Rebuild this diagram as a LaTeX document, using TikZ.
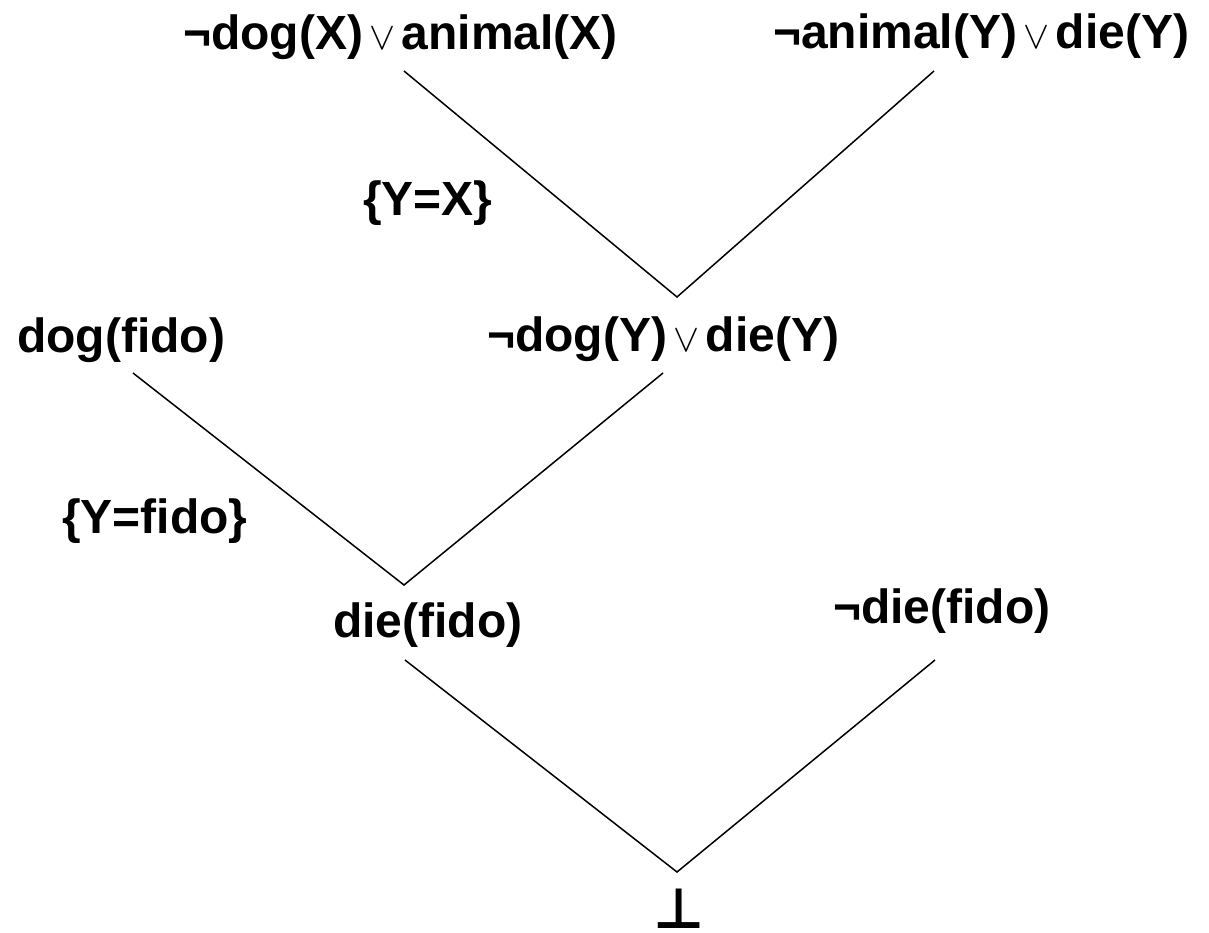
\documentclass[tikz,border=0pt]{standalone}
\usepackage{graphicx}
\usepackage{fontspec}
\setmainfont{Liberation Sans}
\newfontfamily\symfont{DejaVu Sans}
\newcommand{\myor}{\ \makebox[12pt][c]{\scalebox{3.9}{\fontsize{10}{10}\selectfont$\vee$}}\ }
\begin{document}
\begin{tikzpicture}[x=1pt,y=-1pt,
  lbl/.style={anchor=base west,inner sep=0pt,font=\fontsize{48}{48}\selectfont\bfseries},
  edge/.style={line width=1.5pt}]
\useasboundingbox (0,0) rectangle (1209,932);
\node[lbl] (n1) at (183,49) {¬dog(X)\myor animal(X)};
\node[lbl] (n2) at (773,48) {¬animal(Y)\myor die(Y)};
\node[lbl] (s1) at (363,215) {\{Y=X\}};
\node[lbl] (n3) at (17,352) {dog(fido)};
\node[lbl] (n4) at (487,351) {¬dog(Y)\myor die(Y)};
\node[lbl] (s2) at (62,533) {\{Y=fido\}};
\node[lbl] (n5) at (333,637) {die(fido)};
\node[lbl] (n6) at (833,623) {¬die(fido)};
\node[anchor=base,inner sep=0pt,font=\symfont\bfseries\fontsize{56}{56}\selectfont] (bot) at (679,928) {⊥};
\coordinate (a1) at (404,71);
\coordinate (b1) at (934,71);
\coordinate (m1) at (677,297);
\coordinate (a2) at (133,373);
\coordinate (b2) at (663,373);
\coordinate (m2) at (404,585);
\coordinate (a3) at (405,660);
\coordinate (b3) at (935,660);
\coordinate (m3) at (677,872);
\draw[edge] (a1) -- (m1) -- (b1);
\draw[edge] (a2) -- (m2) -- (b2);
\draw[edge] (a3) -- (m3) -- (b3);
\end{tikzpicture}
\end{document}
